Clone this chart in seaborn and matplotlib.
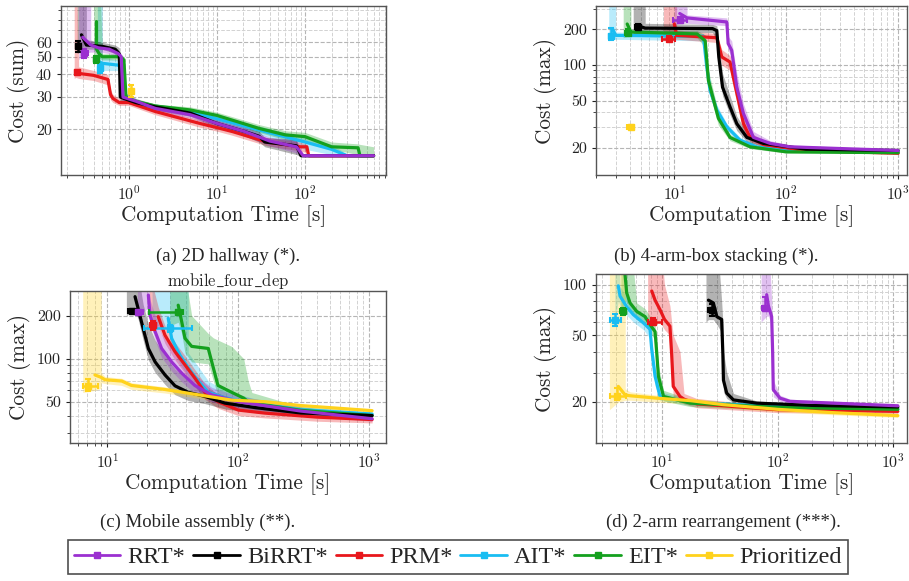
import numpy as np
import matplotlib
matplotlib.use("Agg")
import matplotlib.pyplot as plt
from matplotlib.lines import Line2D
from matplotlib.ticker import LogLocator, NullFormatter, FixedLocator, FixedFormatter
import seaborn as sns

nan = np.nan

PLANNERS = ["RRT*", "BiRRT*", "PRM*", "AIT*", "EIT*", "Prioritized"]
COLORS = {"RRT*": "#9b30d0", "BiRRT*": "#000000", "PRM*": "#e8171c",
          "AIT*": "#19bdf2", "EIT*": "#14a01e", "Prioritized": "#ffd21c"}
DRAW_ORDER = ["AIT*", "PRM*", "EIT*", "BiRRT*", "RRT*", "Prioritized"]

# ---------------- (a) 2D hallway ----------------
A_T = {
    "RRT*": [0.27, 0.30, 0.37, 0.37, 0.45, 0.60, 0.76, 0.82, 0.86, 1.2, 2.0, 5.0, 10, 20, 40, 80, 95, 600],
    "BiRRT*": [0.26, 0.29, 0.33, 0.33, 0.5, 0.7, 0.78, 0.80, 1.2, 2, 5, 10, 20, 30, 35, 80, 90, 600],
    "PRM*": [0.24, 0.25, 0.27, 0.40, 0.58, 0.62, 0.66, 0.78, 1.0, 2, 6.4, 10, 15, 37, 88, 105, 110, 600],
    "AIT*": [0.44, 0.46, 0.50, 0.50, 0.75, 0.82, 0.86, 1.2, 2, 5, 10, 30, 100, 200, 300, 600],
    "EIT*": [0.40, 0.43, 0.43, 0.46, 0.50, 0.80, 0.88, 0.93, 1.2, 2, 5, 10, 30, 60, 100, 200, 400, 420, 600],
}
A_MED = {
    "RRT*": [nan, 64, 58, 58, 56, 55, 52, 50, 30, 28.5, 26, 24, 21.5, 19.5, 17.2, 16, 14.3, 14.3],
    "BiRRT*": [nan, 66, 58, 58, 57, 55, 52, 30, 28, 26.5, 24.5, 21.5, 19.5, 18.3, 17, 16.2, 14.3, 14.3],
    "PRM*": [nan, 41, 40.5, 39.5, 37.5, 31, 29.5, 28, 28, 25, 21.5, 20.4, 19.4, 17, 16, 16, 14.3, 14.3],
    "AIT*": [nan, 47, 46, 46, 45, 44, 30, 28, 26.5, 25, 22.8, 19.8, 17, 15.5, 14.3, 14.3],
    "EIT*": [nan, 78, 55, 52, 50, 50, 48, 30, 28.5, 26.8, 25.5, 23.8, 20.2, 18.6, 18.2, 16, 15.8, 14.3, 14.3],
}
A_LO = {
    "RRT*": [48, 52, 53, 53, 53, 52, 49, 30, 28, 27.5, 25, 23, 20.5, 18.5, 16.2, 14.8, 14.1, 14.1],
    "BiRRT*": [52, 54, 55, 55, 55, 52, 49, 28.5, 27, 25.5, 23.5, 20.5, 18.5, 17, 16, 14.5, 14.1, 14.1],
    "PRM*": [38, 38.5, 38, 37, 35, 29, 28, 27, 27, 24, 20.5, 19.5, 18.5, 16.2, 15.2, 14.8, 14.1, 14.1],
    "AIT*": [41, 42, 42, 42, 42, 41, 28.5, 27, 25.5, 24, 21.8, 18.8, 15.5, 14.5, 14.1, 14.1],
    "EIT*": [45, 48, 50, 49, 48, 48, 46, 28.5, 27.5, 26, 24.5, 22.8, 19.2, 17.5, 17, 15.5, 14.5, 14.1, 14.1],
}
A_HI = {
    "RRT*": [200, 200, 200, 62, 58, 57, 54, 52, 32, 29.5, 27, 25, 22.5, 20.5, 18, 17.5, 14.6, 14.6],
    "BiRRT*": [200, 200, 200, 62, 60, 58, 56, 32, 29, 27.5, 25.5, 22.5, 20.5, 19.5, 18, 17.5, 14.6, 14.6],
    "PRM*": [200, 200, 44, 42, 40, 33, 31, 29.5, 29, 26, 22.5, 21.5, 20.5, 18, 17, 16.5, 14.6, 14.6],
    "AIT*": [200, 200, 200, 50, 48, 47, 32, 29, 27.5, 26, 23.8, 20.8, 18, 16.5, 14.6, 14.6],
    "EIT*": [200, 200, 200, 200, 52, 52, 50, 31.5, 29.5, 27.5, 26.5, 24.8, 21.2, 19.6, 19.2, 17, 16.6, 16.5, 16],
}
# initial solution: time, cost, time err (-,+), cost err (-,+)
A_INIT = {
    "RRT*": (0.314, 52.3, 0.02, 0.03, 3, 3),
    "BiRRT*": (0.268, 57, 0.015, 0.02, 4, 4),
    "PRM*": (0.258, 41, 0.015, 0.02, 1.5, 1.5),
    "AIT*": (0.477, 43.3, 0.02, 0.02, 2.5, 2.5),
    "EIT*": (0.425, 48.4, 0.02, 0.02, 2, 2),
    "Prioritized": (1.05, 32.5, 0.03, 0.03, 2.5, 2.5),
}

# ---------------- (b) 4-arm-box stacking ----------------
B_T = {
    "AIT*": [2.6, 2.8, 3.0, 3.0, 18.2, 19.5, 20.9, 24, 29.5, 38.7, 54.7, 100, 1000],
    "EIT*": [3.5, 3.8, 4.1, 4.1, 16, 18.9, 20.2, 24.8, 31.5, 47.6, 100, 1000],
    "BiRRT*": [4.3, 4.7, 5.5, 5.5, 22, 24, 25, 27, 31.5, 36.2, 44.5, 62.7, 150, 1000],
    "PRM*": [8.0, 10, 10.5, 10.5, 24, 26.6, 31.5, 33.7, 37.4, 41.5, 47.6, 62.7, 150, 1000],
    "RRT*": [10, 11.2, 13, 13, 29.5, 30.3, 32.6, 36.2, 41.5, 51, 72, 108, 1000],
}
B_MED = {
    "AIT*": [nan, 203, 178, 178, 175, 97, 61, 41.7, 30.1, 23.2, 20.4, 19, 18.4],
    "EIT*": [nan, 222, 190, 190, 183, 160, 74, 35.5, 24.5, 20.4, 18.5, 18.2],
    "BiRRT*": [nan, 215, 205, 205, 203, 195, 117, 65, 44.3, 32, 24.5, 21.8, 19.5, 19],
    "PRM*": [nan, 223, 180, 178, 170, 117, 106, 79, 50.5, 32, 24.5, 21.3, 19, 18],
    "RRT*": [nan, 272, 250, 250, 231, 152, 133, 65, 39, 24.5, 21.8, 20.4, 19],
}
B_LO = {
    "AIT*": [160, 165, 165, 165, 160, 85, 55, 38, 28, 22, 19.7, 18.6, 18.1],
    "EIT*": [170, 175, 175, 175, 170, 140, 62, 31, 23, 19.7, 18.1, 17.9],
    "BiRRT*": [180, 185, 190, 190, 188, 160, 95, 55, 38, 28, 22.5, 20.5, 19, 18.7],
    "PRM*": [160, 165, 165, 165, 155, 100, 90, 65, 42, 28, 22.5, 20, 18.5, 17.6],
    "RRT*": [220, 225, 225, 225, 215, 135, 115, 55, 33, 22.5, 20.5, 19.5, 18.7],
}
B_HI = {
    "AIT*": [400, 400, 400, 190, 185, 115, 70, 46, 32, 24.5, 21, 19.5, 18.7],
    "EIT*": [400, 400, 400, 200, 195, 180, 90, 40, 26, 21, 19, 18.5],
    "BiRRT*": [400, 400, 400, 225, 220, 215, 150, 85, 55, 37, 27, 23, 20, 19.3],
    "PRM*": [400, 400, 400, 195, 185, 135, 120, 95, 62, 37, 27, 23, 19.5, 18.4],
    "RRT*": [400, 400, 400, 265, 250, 175, 160, 85, 47, 27.5, 23, 21.2, 19.3],
}
B_INIT = {
    "AIT*": (2.75, 175, 0.15, 0.15, 12, 30),
    "EIT*": (3.85, 188, 0.2, 0.2, 10, 12),
    "BiRRT*": (4.75, 210, 0.3, 0.3, 10, 12),
    "PRM*": (9.0, 167, 1.2, 1.2, 8, 10),
    "RRT*": (11.2, 238, 1.5, 1.7, 12, 15),
    "Prioritized": (4.1, 30, 0.3, 0.3, 1.3, 1.3),
}

# ---------------- (c) Mobile assembly ----------------
C_T = {
    "BiRRT*": [14, 16.3, 17.2, 18.8, 20.6, 23.2, 27.6, 32.9, 41.5, 55.6, 79, 134, 300, 1050],
    "RRT*": [17, 20.6, 21.2, 23.2, 26, 31, 37, 46.6, 62.7, 100, 300, 1050],
    "PRM*": [21, 24.5, 27.6, 32.9, 39.2, 46.6, 55.6, 70, 100, 160, 400, 1050],
    "AIT*": [22, 29.2, 31, 35.9, 41.5, 41.5, 49.5, 59, 79, 127, 300, 1050],
    "EIT*": [30, 34.8, 37, 39.2, 44.1, 59, 64.5, 70, 89, 110, 119, 127, 300, 1050],
    "Prioritized": [6.5, 8.06, 9.0, 9.0, 9.6, 12.9, 15.3, 27.6, 49.5, 89, 160, 300, 1050],
}
C_MED = {
    "BiRRT*": [nan, 272, 225, 163, 118, 95, 77, 64.6, 58.2, 54.5, 48.9, 45.5, 41.7, 40],
    "RRT*": [nan, 279, 202, 155, 118, 95, 79.3, 65, 55.9, 50, 43, 38],
    "PRM*": [nan, 197, 146, 112, 90.6, 73.3, 58.2, 50, 43.7, 41.6, 39, 37.5],
    "AIT*": [nan, 192, 139, 106, 86.4, 86.4, 69.8, 58.2, 53.2, 49, 44, 41],
    "EIT*": [nan, 237, 182, 139, 122, 118, 86.4, 65, 58.2, 53, 50, 49, 43.5, 40],
    "Prioritized": [nan, 77, 74, 74, 71.3, 69.8, 65, 60.9, 55.9, 51.3, 50, 47, 43.3],
}
C_LO = {
    "BiRRT*": [200, 220, 190, 135, 98, 80, 66, 56, 51, 48.5, 44.5, 42, 39.5, 38.5],
    "RRT*": [190, 230, 175, 135, 102, 82, 69, 57, 50, 45.5, 40.5, 36.5],
    "PRM*": [160, 170, 128, 98, 79, 64, 52, 45, 40, 38.5, 36.5, 35.5],
    "AIT*": [160, 165, 120, 92, 75, 75, 60, 51, 47, 44.5, 41.5, 39.5],
    "EIT*": [170, 180, 150, 110, 95, 92, 70, 55, 50, 47, 46, 45, 41, 38.5],
    "Prioritized": [58, 60, 62, 68, 67, 65, 61, 57.5, 53, 49, 47.5, 45.5, 42.5],
}
C_HI = {
    "BiRRT*": [400, 400, 400, 240, 175, 135, 105, 85, 70, 62, 55, 49, 44, 41.5],
    "RRT*": [400, 400, 260, 200, 150, 118, 96, 77, 63, 55, 46, 39.5],
    "PRM*": [400, 230, 170, 130, 105, 84, 67, 56, 48, 44, 41, 39.5],
    "AIT*": [400, 400, 400, 400, 400, 110, 88, 70, 60, 53, 46.5, 42.5],
    "EIT*": [400, 400, 400, 400, 200, 150, 140, 135, 122, 100, 70, 58, 46, 41.5],
    "Prioritized": [400, 400, 400, 80, 75, 73, 68, 63.5, 58, 53, 51.5, 48, 44],
}
C_INIT = {
    "BiRRT*": (15.5, 216, 1.2, 1.2, 6, 6),
    "RRT*": (17.2, 213, 1.5, 1.5, 6, 6),
    "PRM*": (22.4, 172, 1.2, 1.2, 12, 12),
    "AIT*": (30, 163, 11, 14, 8, 8),
    "EIT*": (34.8, 213, 14, 3, 6, 6),
    "Prioritized": (7.16, 64, 0.6, 1.3, 5, 8),
}

# ---------------- (d) 2-arm rearrangement ----------------
D_T = {
    "Prioritized": [3.5, 4.18, 4.8, 4.8, 5.3, 9, 17.5, 34, 100, 300, 1100],
    "AIT*": [3.9, 4.18, 4.33, 4.94, 5.64, 6.89, 7.87, 8.14, 8.7, 9.6, 17.5, 100, 1100],
    "EIT*": [4.4, 4.78, 4.94, 5.28, 6.04, 7.13, 7.87, 8.7, 9.0, 9.3, 10.3, 17.5, 100, 1100],
    "PRM*": [7.5, 8.14, 8.7, 9.6, 10.5, 11.7, 12.1, 12.5, 14.3, 15.5, 20, 100, 1100],
    "BiRRT*": [24, 25.2, 27.8, 29.8, 32.8, 33.6, 34, 36.3, 41.5, 66, 200, 1100],
    "RRT*": [72, 80.5, 83.3, 88.9, 90.7, 91.8, 105, 128, 1100],
}
D_MED = {
    "Prioritized": [nan, 24.8, 22, 22, 21.8, 21.1, 20.4, 19.3, 18.1, 17.3, 16.6],
    "AIT*": [nan, 98.6, 85.6, 74, 66.4, 59.3, 54.3, 41.1, 28.5, 21.6, 19.9, 18.8, 18.2],
    "EIT*": [nan, 115, 89.5, 78, 69.4, 64.6, 57.9, 52.6, 39, 28.5, 21.6, 19.7, 18.6, 18.1],
    "PRM*": [nan, 91.9, 81, 71.1, 62.2, 56.7, 39, 24.8, 21.6, 20.8, 19.5, 18, 17.6],
    "BiRRT*": [nan, 81, 78, 64.6, 62.2, 39, 27, 22.6, 20.6, 19.7, 19.1, 18.7],
    "RRT*": [nan, 87.3, 75, 64.6, 39, 23.7, 21.1, 20.2, 19],
}
D_LO = {
    "Prioritized": [18, 20, 20.5, 20.5, 20.5, 20, 19.5, 18.5, 17.5, 16.8, 16.2],
    "AIT*": [60, 80, 75, 66, 60, 54, 48, 36, 25, 20.5, 19.2, 18.3, 17.8],
    "EIT*": [65, 80, 78, 70, 62, 58, 52, 47, 34, 25, 20.3, 18.8, 17.8, 17.5],
    "PRM*": [55, 60, 62, 60, 54, 50, 33, 21.5, 20, 19.5, 18.5, 17.3, 17],
    "BiRRT*": [60, 62, 62, 58, 52, 32, 23, 21, 19.8, 19.2, 18.7, 18.4],
    "RRT*": [60, 65, 65, 58, 33, 21.5, 20.2, 19.5, 18.6],
}
D_HI = {
    "Prioritized": [200, 200, 200, 24, 23, 22, 21.2, 20, 18.7, 17.8, 17],
    "AIT*": [200, 200, 98, 84, 74, 66, 60, 47, 33, 23, 20.6, 19.3, 18.6],
    "EIT*": [200, 200, 200, 200, 78, 72, 65, 58, 45, 33, 23.5, 20.7, 19.2, 18.6],
    "PRM*": [200, 200, 200, 200, 100, 75, 60, 50, 40, 22.5, 21, 18.8, 18.2],
    "BiRRT*": [200, 200, 200, 200, 80, 60, 40, 30, 22.5, 20.3, 19.5, 19],
    "RRT*": [200, 200, 200, 80, 50, 27, 22, 20.8, 19.4],
}
D_INIT = {
    "Prioritized": (4.06, 21.6, 0.5, 0.8, 1, 2.5),
    "AIT*": (3.92, 62, 0.4, 0.5, 5, 5),
    "EIT*": (4.6, 69.4, 0.3, 0.3, 3, 3),
    "PRM*": (8.4, 60.4, 0.8, 1.6, 3, 3),
    "BiRRT*": (26.9, 71.1, 2, 2, 6, 6),
    "RRT*": (78, 72.5, 4, 4, 3, 12),
}

sns.set_theme(style="ticks")
plt.rcParams.update({
    "font.family": "serif",
    "font.serif": ["cmr10"],
    "mathtext.fontset": "cm",
    "axes.formatter.use_mathtext": True,
    "axes.unicode_minus": False,
})

W, H = 909, 581
fig = plt.figure(figsize=(W / 100, H / 100), dpi=100)


def add_ax(l, t, r, b):
    return fig.add_axes([l / W, 1 - b / H, (r - l) / W, (b - t) / H])


def draw_panel(ax, T, MED, LO, HI, INIT, xlim, ylim, yticks, ylabel):
    ax.set_xscale("log")
    ax.set_yscale("log")
    for name in DRAW_ORDER:
        col = COLORS[name]
        if name in T:
            ax.fill_between(T[name], LO[name], HI[name], color=col, alpha=0.3, lw=0, zorder=1)
            sns.lineplot(x=T[name], y=MED[name], ax=ax, color=col, lw=2.3,
                         estimator=None, sort=False, zorder=2)
        t0, c0, tl, th, cl, ch = INIT[name]
        ax.errorbar([t0], [c0], xerr=[[tl], [th]], yerr=[[cl], [ch]], fmt="s", ms=4,
                    color=col, elinewidth=1.8, capsize=2.5, capthick=1.5, zorder=3)
    ax.set_xlim(*xlim)
    ax.set_ylim(*ylim)
    ax.yaxis.set_major_locator(FixedLocator(yticks))
    ax.yaxis.set_major_formatter(FixedFormatter([str(v) for v in yticks]))
    ax.yaxis.set_minor_locator(LogLocator(base=10, subs=np.arange(1, 10)))
    ax.yaxis.set_minor_formatter(NullFormatter())
    ax.xaxis.set_minor_locator(LogLocator(base=10, subs=np.arange(2, 10), numticks=50))
    ax.xaxis.set_minor_formatter(NullFormatter())
    ax.grid(True, which="major", ls="--", color="#b5b5b5", lw=0.8)
    ax.grid(True, which="minor", ls="--", color="#d2d2d2", lw=0.7)
    ax.tick_params(labelsize=11.5, colors="#222222", length=3, width=0.8)
    ax.tick_params(which="minor", length=2, width=0.6)
    for s in ax.spines.values():
        s.set_color("#555555")
        s.set_linewidth(1.0)
    ax.set_xlabel("Computation Time [s]", fontsize=15.3, labelpad=2)
    ax.set_ylabel(ylabel, fontsize=15.3, labelpad=4)


ax_a = add_ax(61, 6, 386, 175)
draw_panel(ax_a, A_T, A_MED, A_LO, A_HI, A_INIT, (0.17, 830), (11.2, 95),
           [20, 30, 40, 50, 60], "Cost (sum)")
ax_b = add_ax(596, 6, 907, 175)
draw_panel(ax_b, B_T, B_MED, B_LO, B_HI, B_INIT, (2.0, 1200), (11.8, 315),
           [20, 50, 100, 200], "Cost (max)")
ax_c = add_ax(70, 291, 386, 443)
draw_panel(ax_c, C_T, C_MED, C_LO, C_HI, C_INIT, (5.2, 1340), (25.7, 298),
           [50, 100, 200], "Cost (max)")
ax_c.set_title(r"$\mathrm{mobile\_four\_dep}$", fontsize=12, pad=2)
ax_d = add_ax(596, 274, 907, 443)
draw_panel(ax_d, D_T, D_MED, D_LO, D_HI, D_INIT, (2.68, 1320), (11.4, 116),
           [20, 50, 100], "Cost (max)")

cap_font = dict(family="Liberation Serif", fontsize=13.5, ha="center", va="center")
fig.text(228 / W, 1 - 256 / H, "(a) 2D hallway (*).", **cap_font)
fig.text(716 / W, 1 - 256 / H, "(b) 4-arm-box stacking (*).", **cap_font)
fig.text(198 / W, 1 - 522 / H, "(c) Mobile assembly (**).", **cap_font)
fig.text(723 / W, 1 - 522 / H, "(d) 2-arm rearrangement (***).", **cap_font)

handles = [Line2D([], [], color=COLORS[n], lw=2, marker="s", ms=5) for n in PLANNERS]
leg = fig.legend(handles, PLANNERS, loc="center", bbox_to_anchor=(458 / W, 1 - 557 / H),
                 ncol=6, frameon=True, fancybox=False, edgecolor="#222222",
                 prop={"family": "Liberation Serif", "size": 17.5},
                 handlelength=1.9, handletextpad=0.3, columnspacing=0.33,
                 borderpad=0.25, borderaxespad=0)
leg.get_frame().set_linewidth(1.2)

fig.savefig("out.png", dpi=100)
